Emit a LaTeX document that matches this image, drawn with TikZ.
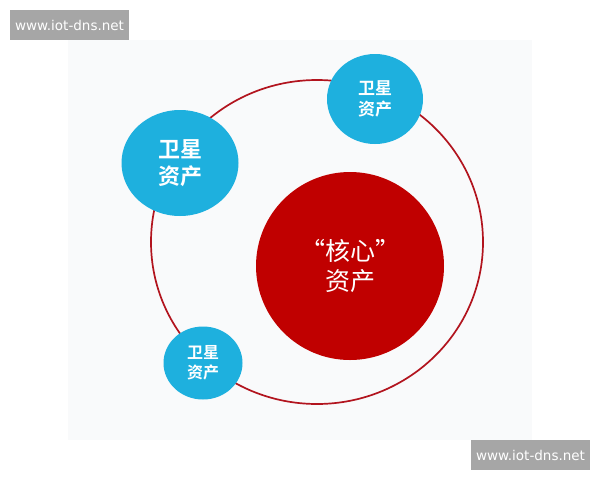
\documentclass[tikz,border=0pt]{standalone}
\usepackage{fontspec}
\newfontfamily\cjk{Noto Sans CJK SC}[BoldFont={Noto Sans CJK SC Bold}]
\newfontfamily\labfont{DejaVu Sans}
\usetikzlibrary{shapes.geometric}
\definecolor{ringred}{RGB}{178,20,30}
\definecolor{corered}{RGB}{192,0,0}
\definecolor{satblue}{RGB}{30,176,222}
\definecolor{labgrey}{RGB}{166,166,166}
\definecolor{panel}{RGB}{249,250,251}
\tikzset{
  sat/.style={ellipse, fill=satblue, inner sep=0pt, text=white, align=center},
  wm/.style={fill=labgrey, text=white, inner sep=0pt, minimum width=119pt, minimum height=30pt, font=\labfont\fontsize{13.5}{14}\selectfont},
}
\begin{document}
\begin{tikzpicture}[x=1pt,y=-1pt]
\useasboundingbox (0,0) rectangle (600,480);
\fill[white] (0,0) rectangle (600,480);
\fill[panel] (68,40) rectangle (532,440);
\node[ellipse, draw=ringred, line width=1.7pt, minimum width=332pt, minimum height=324pt, inner sep=0pt] (ring) at (317,242) {};
\node[circle, fill=corered, minimum size=188pt, inner sep=0pt, text=white, align=center, font=\cjk\fontsize{25}{30}\selectfont] (core) at (350,266) {“核心”\\资产};
\node[sat, minimum width=96pt, minimum height=90pt, font=\cjk\bfseries\fontsize{17}{21}\selectfont] (s1) at (375,99) {卫星\\资产};
\node[sat, minimum width=117pt, minimum height=106pt, font=\cjk\bfseries\fontsize{22}{27}\selectfont] (s2) at (180,163) {卫星\\资产};
\node[sat, minimum width=79pt, minimum height=73pt, font=\cjk\bfseries\fontsize{16}{20}\selectfont] (s3) at (203,363) {卫星\\资产};
\node[wm] (w1) at (69.5,25) {www.iot-dns.net};
\node[wm] (w2) at (530.5,455) {www.iot-dns.net};
\end{tikzpicture}
\end{document}
